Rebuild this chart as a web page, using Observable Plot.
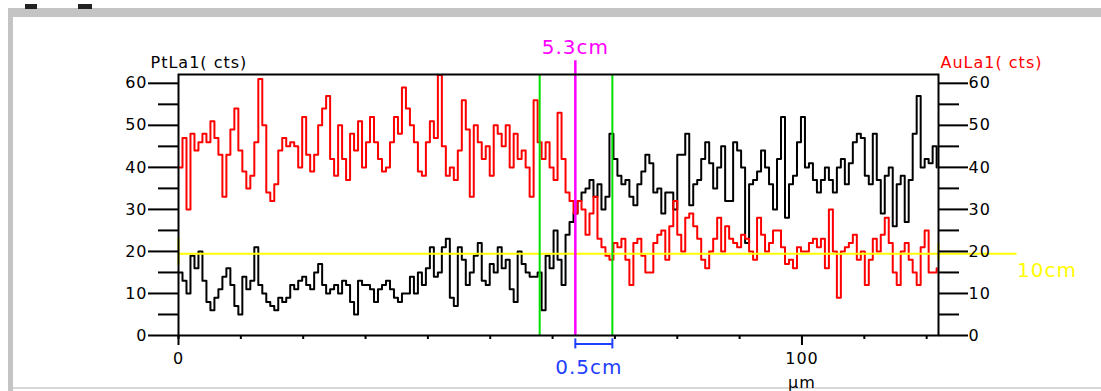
<!DOCTYPE html>
<html>
<head>
<meta charset="utf-8">
<script src="https://cdn.jsdelivr.net/npm/d3@7"></script>
<script src="https://cdn.jsdelivr.net/npm/@observablehq/plot@0.6"></script>
<style>
  html, body { margin: 0; padding: 0; background: #ffffff; }
  #wrap { position: relative; width: 1101px; height: 391px; overflow: hidden; background: #ffffff; }
  .deco { position: absolute; }
  #chart { position: absolute; left: 0; top: 0; }
  #chart svg text { letter-spacing: 1px; }
</style>
</head>
<body>
<div id="wrap">
  <div class="deco" style="left:8px;top:8px;width:1093px;height:9px;background:#c4c4c4;"></div>
  <div class="deco" style="left:8px;top:17px;width:5px;height:374px;background:#c4c4c4;"></div>
  <div class="deco" style="left:25px;top:4px;width:12px;height:5px;background:#222;"></div>
  <div class="deco" style="left:78px;top:4px;width:14px;height:5px;background:#222;"></div>
  <div class="deco" style="left:13px;top:387px;width:1088px;height:2px;background:#d8d8d8;"></div>
  <div id="chart"></div>
</div>
<script>
// ---- data ----
const sampleStep = 0.64; // µm between successive samples
const ptLa1 = [ // black, left axis (cts)
  15,13,10,19,16,20,13,8,6,9, 11,14,16,12,7,5,14,11,13,21, 12,10,8,7,6,9,8,9,12,11, 13,14,12,11,15,17,12,10,11,
  12,10,13,12,8,5,13,12,12,11, 8,11,12,13,11,9,8,10,10,14, 10,15,12,16,21,14,15,21,23,9, 7,21,18,12,15,19,22,13,
  12,17,15,21,16,18,11,8,20,17, 15,14,14,15,6,19,16,25,18,12, 24,27,29,32,34,35,37,33,36,30, 33,48,42,38,36,37,33,31,
  36,39,43,41,34,35,29,34,34,30, 43,43,48,31,36,37,42,46,41,35, 40,45,32,32,46,44,40,22,36,37, 39,44,40,36,30,42,52,28,
  36,38,46,52,40,41,37,34,37,40, 37,34,40,42,36,41,46,48,47,38, 36,48,37,29,38,40,26,36,38,27, 37,48,57,40,42,41,45,40
];
const auLa1 = [ // red, right axis (cts)
  40,47,30,48,44,46,48,46,51,47, 43,33,43,49,54,44,39,35,38,46, 61,50,34,32,36,44,47,45,46,45, 40,52,43,39,43,50,54,57,42,
  38,50,42,37,48,44,51,40,46,52, 46,42,39,40,46,52,48,59,54,50, 46,39,38,46,51,47,62,45,38,40, 37,44,56,49,33,50,46,42,
  45,38,50,48,45,50,40,48,42,44, 40,33,56,46,42,46,40,37,53,42, 34,32,29,32,30,24,29,33,23,21, 19,18,22,21,23,18,12,22,
  23,19,15,15,22,24,25,18,26,32, 24,20,28,29,26,23,18,16,20,23, 28,20,26,23,22,21,24,23,20,18, 28,24,20,22,25,25,21,17,
  18,16,21,20,20,22,23,21,23,16, 30,20,9,20,21,22,24,18,20,12, 18,23,20,24,28,22,15,12,20,22, 18,15,12,21,25,15,15,16
];
const yTicks = [0, 10, 20, 30, 40, 50, 60];
const yMinorTicks = [5, 15, 25, 35, 45, 55];
const xMinorTicks = [0, 10, 20, 30, 40, 50, 60, 70, 80, 90, 100, 110, 120];
const xLabelTicks = [0, 100];
const leftTitle = "PtLa1( cts)";
const rightTitle = "AuLa1( cts)";
const xUnit = "µm";
const greenCursors = [57.93, 69.59];
const magentaCursor = 63.65;
const magentaLabel = "5.3cm";
const yellowLevel = 19.45;
const yellowLabel = "10cm";
const spanLabel = "0.5cm";
const xMax = 121.9;
const yMax = 62.1;

const rows = ptLa1.map((v, i) => ({x: i * sampleStep, pt: v, au: auLa1[i]}));

const chart = Plot.plot({
  width: 1101,
  height: 391,
  marginLeft: 178,
  marginRight: 163,
  marginTop: 74,
  marginBottom: 56,
  x: {domain: [0, xMax], axis: null},
  y: {domain: [0, yMax], axis: null},
  style: {fontFamily: "'DejaVu Sans', sans-serif", fontSize: "16px", color: "black", background: "transparent", overflow: "visible"},
  marks: [
    Plot.lineY(rows, {x: "x", y: "pt", curve: "step-after", stroke: "black", strokeWidth: 2}),
    Plot.lineY(rows, {x: "x", y: "au", curve: "step-after", stroke: "#ff0000", strokeWidth: 2}),
    // yellow level marker
    Plot.ruleY([yellowLevel], {x1: 0, x2: xMax + 12.6, stroke: "#ffff00", strokeWidth: 2}),
    Plot.ruleX([0], {y1: yellowLevel - 2.8, y2: yellowLevel + 3.7, stroke: "#ffff00", strokeWidth: 2}),
    Plot.ruleX([xMax], {y1: yellowLevel - 1.6, y2: yellowLevel + 2.4, stroke: "#ffff00", strokeWidth: 2}),
    Plot.text([yellowLabel], {x: xMax + 12.6, y: yellowLevel, dy: 17, lineAnchor: "middle", textAnchor: "start", fill: "#ffff00", fontSize: 20, style: "letter-spacing:1.5px"}),
    // green cursors
    Plot.ruleX(greenCursors, {y1: 0, y2: yMax, stroke: "#00e000", strokeWidth: 2}),
    // magenta cursor
    Plot.ruleX([magentaCursor], {y1: 0, y2: yMax + 3.3, stroke: "#ff00ff", strokeWidth: 2.5}),
    Plot.text([magentaLabel], {x: magentaCursor, frameAnchor: "top", lineAnchor: "middle", dy: -27, fill: "#ff00ff", fontSize: 20}),
    // blue span bracket
    Plot.ruleY([-2], {x1: magentaCursor, x2: greenCursors[1], stroke: "#1f3fff", strokeWidth: 2}),
    Plot.ruleX([magentaCursor, greenCursors[1]], {y1: -0.8, y2: -3.2, stroke: "#1f3fff", strokeWidth: 2}),
    Plot.text([spanLabel], {x: (magentaCursor + greenCursors[1]) / 2, frameAnchor: "bottom", lineAnchor: "middle", dx: -5, dy: 32, fill: "#1f3fff", fontSize: 20}),
    // frame
    Plot.frame({stroke: "black", strokeWidth: 2}),
    // axes
    Plot.axisY(yTicks, {anchor: "left", tickSize: 30, tickPadding: 1, strokeWidth: 2, label: null}),
    Plot.axisY(yMinorTicks, {anchor: "left", tickSize: 20, strokeWidth: 2, tickFormat: () => "", label: null}),
    Plot.axisY(yTicks, {anchor: "right", tickSize: 29, tickPadding: 1, strokeWidth: 2, label: null}),
    Plot.axisY(yMinorTicks, {anchor: "right", tickSize: 20, strokeWidth: 2, tickFormat: () => "", label: null}),
    Plot.axisX(xMinorTicks, {anchor: "bottom", tickSize: 4, strokeWidth: 2, tickFormat: () => "", label: null}),
    Plot.axisX(xLabelTicks, {anchor: "bottom", tickSize: 10, tickPadding: 7, strokeWidth: 2, label: null}),
    Plot.text([xUnit], {x: 100, frameAnchor: "bottom", lineAnchor: "middle", dy: 47, fill: "black"}),
    Plot.text([leftTitle], {frameAnchor: "top-left", lineAnchor: "middle", dx: -28, dy: -12, textAnchor: "start", fill: "black"}),
    Plot.text([rightTitle], {frameAnchor: "top-right", lineAnchor: "middle", dx: 2, dy: -12, textAnchor: "start", fill: "#ff0000"})
  ]
});
document.getElementById("chart").appendChild(chart);
</script>
</body>
</html>
